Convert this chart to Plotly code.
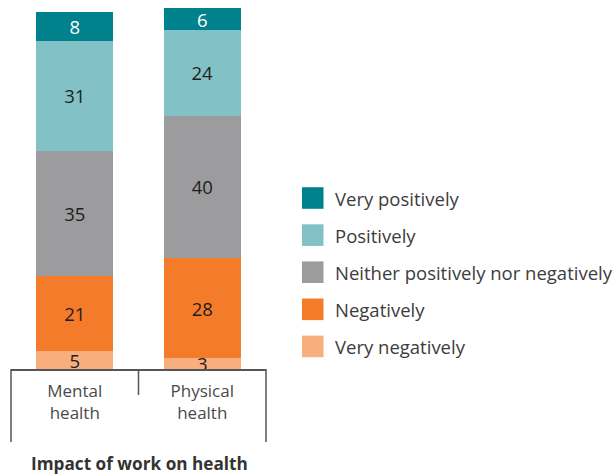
import plotly.graph_objects as go

# Survey data: share of respondents (%) by how work affects their health
categories = ["Mental<br>health", "Physical<br>health"]
responses = [
    "Very negatively",
    "Negatively",
    "Neither positively nor negatively",
    "Positively",
    "Very positively",
]
very_negatively = [5, 3]
negatively = [21, 28]
neither = [35, 40]
positively = [31, 24]
very_positively = [8, 6]
series_values = [very_negatively, negatively, neither, positively, very_positively]

colors = ["#F9AE7D", "#F47B2A", "#9C9B9D", "#82C2C6", "#00828C"]
label_colors = ["#1e1e1e", "#1e1e1e", "#1e1e1e", "#1e1e1e", "#ffffff"]

FONT = "Open Sans"
W, H = 616, 474


def px_x(x):
    return x / W


def px_y(y):
    return 1 - y / H


fig = go.Figure()
for name, vals, col, tcol in zip(responses, series_values, colors, label_colors):
    fig.add_trace(
        go.Bar(
            x=categories,
            y=vals,
            name=name,
            marker=dict(color=col, line=dict(width=0)),
            text=[str(v) for v in vals],
            textposition="inside",
            insidetextanchor="middle",
            textangle=0,
            textfont=dict(color=tcol, size=18.5, family=FONT),
            cliponaxis=False,
            showlegend=False,
            hoverinfo="skip",
        )
    )

shapes = []
annotations = []

# Bracket lines under the category axis
line_style = dict(color="#555555", width=1.5)
for x0, y_end in [(11, 442), (138.5, 395), (266, 442)]:
    shapes.append(dict(type="line", xref="paper", yref="paper",
                       x0=px_x(x0), x1=px_x(x0), y0=px_y(369), y1=px_y(y_end),
                       line=line_style))

# Legend, top entry first
for i, (name, col) in enumerate(zip(responses[::-1], colors[::-1])):
    cy = 198 + i * 37.1
    shapes.append(dict(type="rect", xref="paper", yref="paper",
                       x0=px_x(302), x1=px_x(323.5),
                       y0=px_y(cy + 10.8), y1=px_y(cy - 10.8),
                       fillcolor=col, line=dict(width=0)))
    annotations.append(dict(x=px_x(333), y=px_y(cy), xref="paper", yref="paper",
                            text=name, showarrow=False, xanchor="left", yanchor="middle",
                            font=dict(family=FONT, size=18.5, color="#3c3c3c")))

annotations.append(dict(x=px_x(139), y=px_y(463), xref="paper", yref="paper",
                        text="<b>Impact of work on health</b>", showarrow=False,
                        xanchor="center", yanchor="middle",
                        font=dict(family=FONT, size=17.2, color="#333333")))

px_per_unit = 3.57
fig.update_layout(
    width=W,
    height=H,
    margin=dict(l=0, r=0, t=0, b=0),
    barmode="stack",
    bargap=0.394,
    plot_bgcolor="white",
    paper_bgcolor="white",
    uniformtext=dict(minsize=18.5, mode="show"),
    shapes=shapes,
    annotations=annotations,
    xaxis=dict(
        domain=[px_x(11), px_x(266)],
        range=[-0.5, 1.5],
        showline=True,
        linecolor="#555555",
        linewidth=1.5,
        showgrid=False,
        ticks="",
        ticklabelstandoff=6,
        tickfont=dict(family=FONT, size=17, color="#4a4a4a"),
        fixedrange=True,
    ),
    yaxis=dict(
        domain=[px_y(369), 1],
        range=[0, 369 / px_per_unit],
        visible=False,
        showgrid=False,
        fixedrange=True,
    ),
)

fig.write_html("out.html")
